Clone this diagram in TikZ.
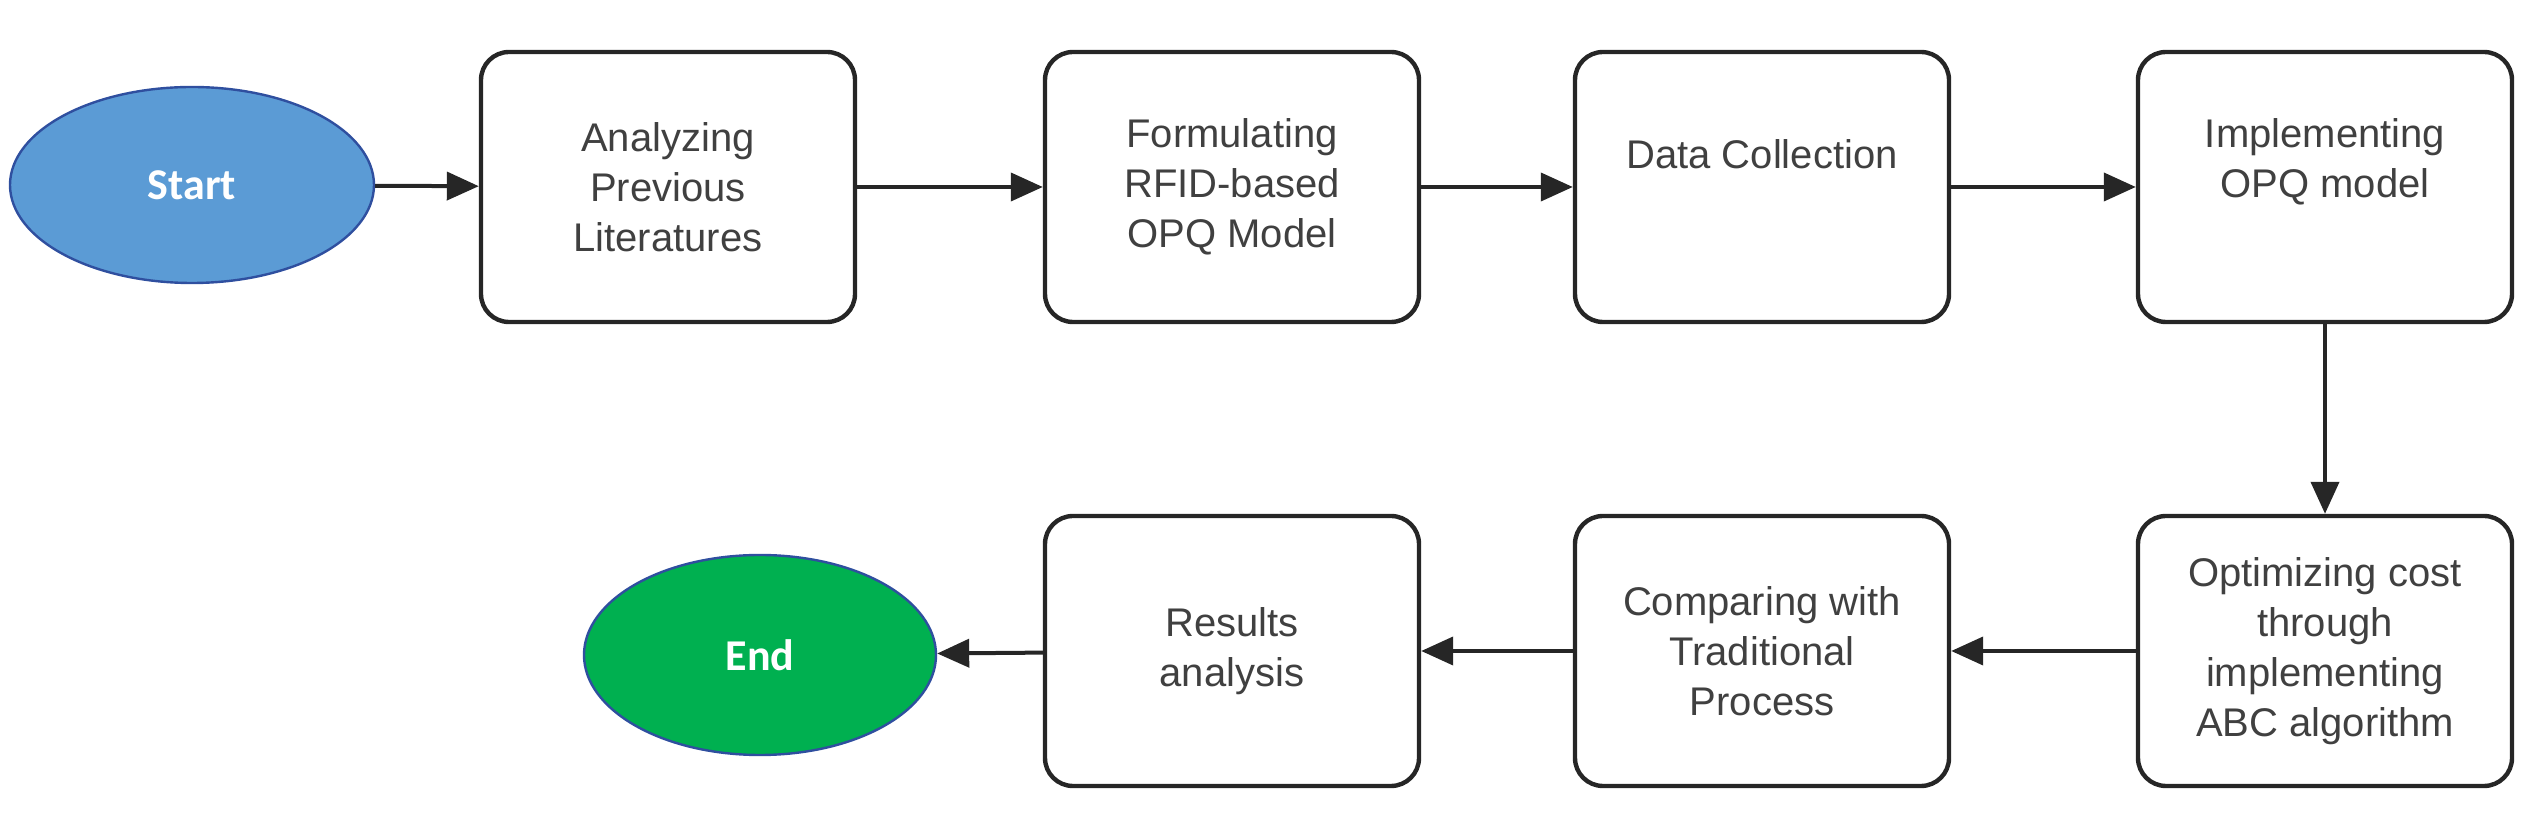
\documentclass[tikz,border=0pt]{standalone}
\usepackage{fontspec}
\setmainfont{Liberation Sans}
\newfontfamily\calib{Carlito}
\usetikzlibrary{shapes.geometric,arrows.meta}
\definecolor{txt}{HTML}{404040}
\definecolor{sblue}{HTML}{5B9BD5}
\definecolor{sgreen}{HTML}{00B050}
\definecolor{eborder}{HTML}{2F4F9F}
\begin{document}
\begin{tikzpicture}[x=0.5pt,y=-0.5pt,
  box/.style={draw=black!85,line width=2.2pt,rounded corners=14pt,minimum width=187pt,minimum height=135pt,align=center,text=txt,font=\fontsize{20}{25}\selectfont,inner sep=2pt},
  term/.style={ellipse,draw=eborder,line width=1.2pt,minimum width=182pt,minimum height=98pt,text=white,font=\calib\bfseries\fontsize{22}{26}\selectfont},
  arr/.style={-{Triangle[length=16pt,width=14pt]},line width=2pt,draw=black!85}]
\useasboundingbox (0,0) rectangle (2545,822);
\node[term,fill=sblue] (start) at (192,185) {Start};
\node[box] (b1) at (668,187) {Analyzing\\Previous\\Literatures};
\node[box] (b2) at (1232,187) {Formulating\\RFID-based\\OPQ Model};
\node[box] (b3) at (1762,187) {Data Collection\\[8pt]};
\node[box] (b4) at (2325,187) {Implementing\\OPQ model\\[4pt]};
\node[box] (b5) at (2325,651) {Optimizing cost\\through\\implementing\\ABC algorithm};
\node[box] (b6) at (1762,651) {Comparing with\\Traditional\\Process};
\node[box] (b7) at (1232,651) {Results\\analysis};
\node[term,fill=sgreen,minimum width=176pt,minimum height=100pt] (end) at (760,655) {End};
\draw[arr] (start) -- (b1);
\draw[arr] (b1) -- (b2);
\draw[arr] (b2) -- (b3);
\draw[arr] (b3) -- (b4);
\draw[arr] (b4) -- (b5);
\draw[arr] (b5) -- (b6);
\draw[arr] (b6) -- (b7);
\draw[arr] (b7) -- (end);
\end{tikzpicture}
\end{document}
